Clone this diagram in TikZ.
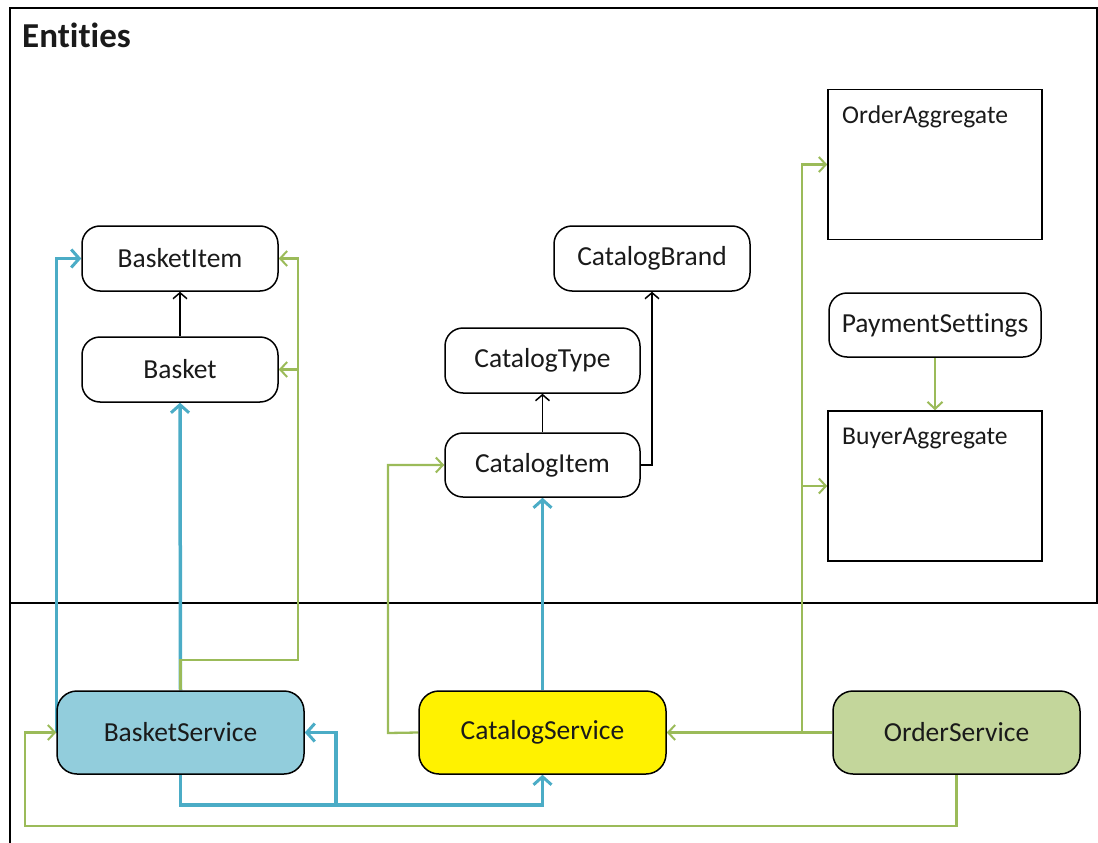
\documentclass[tikz,border=0pt]{standalone}
\usepackage{fontspec}
\setmainfont{Carlito}[Ligatures={NoCommon,NoRare,NoContextual}]
\usetikzlibrary{arrows.meta,backgrounds}
\definecolor{linkblue}{HTML}{4BACC6}
\definecolor{linkgreen}{HTML}{9BBB59}
\definecolor{basketfill}{HTML}{92CDDC}
\definecolor{orderfill}{HTML}{C3D69B}
\definecolor{inktext}{HTML}{1A1A1A}
\begin{document}
\begin{tikzpicture}[x=1pt,y=-1pt,
  every node/.style={text=inktext},
  entity/.style={draw=black, line width=1.5pt, rounded corners=18pt, fill=white,
    minimum width=196pt, minimum height=65pt, inner sep=0pt,
    font=\fontsize{27.5}{31}\selectfont},
  aggbox/.style={draw=black, line width=1.5pt, fill=white,
    minimum width=214pt, minimum height=150pt, inner sep=0pt},
  aggtitle/.style={anchor=base west, inner sep=0pt, font=\fontsize{25.6}{29}\selectfont},
  service/.style={draw=black, line width=1.5pt, rounded corners=20pt,
    minimum width=247pt, minimum height=83pt, inner sep=0pt,
    font=\fontsize{27.5}{31}\selectfont},
  blackln/.style={draw=black, line width=1.5pt, -{Straight Barb[length=6pt,width=14pt,line width=1.5pt]}},
  blueln/.style={draw=linkblue, line width=3.5pt, line join=miter},
  bluetip/.style={-{Straight Barb[length=8pt,width=18pt,line width=3pt]}},
  greenln/.style={draw=linkgreen, line width=2.3pt},
  greentip/.style={-{Straight Barb[length=7pt,width=15pt,line width=2pt]}},
]
\useasboundingbox (0,0) rectangle (1098,843);

% entity nodes
\node[entity] (bi) at (180,258.5) {BasketItem};
\node[entity] (bk) at (180,369.5) {Basket};
\node[entity] (cb) at (652,258.5) {CatalogBrand};
\node[entity, minimum width=195pt] (ct) at (542.5,360.5) {CatalogType};
\node[entity, minimum width=195pt, minimum height=64pt] (ci) at (542.5,465) {CatalogItem};
\node[entity, minimum width=212pt, minimum height=64pt] (ps) at (935,325) {PaymentSettings};
\node[aggbox] (oa) at (935,164.5) {};
\node[aggtitle] (oat) at (842,123) {OrderAggregate};
\node[aggbox] (ba) at (935,486) {};
\node[aggtitle] (bat) at (842,444) {BuyerAggregate};

% services
\node[service, fill=basketfill] (bs) at (180.5,732.5) {BasketService};
\node[service, fill=yellow] (cs) at (542.5,732.5) {CatalogService};
\node[service, fill=orderfill] (os) at (956.5,732.5) {OrderService};

% title
\node[anchor=base west, inner sep=0pt, font=\fontsize{35}{39}\selectfont\bfseries] (title) at (22,48) {Entities};

% routing points
\coordinate (bj) at (336,805);
\coordinate (gj) at (298,660);
\coordinate (cj) at (388,733);
\coordinate (oj) at (802,733);
\coordinate (gl) at (25,826);

\begin{scope}[on background layer]
  % frame of the entity area
  \draw[line width=2pt] (10,8) rectangle (1097,603);
  \draw[line width=2pt] (10,603) -- (10,843);

  % blue links
  \draw[blueln, bluetip] (bs.west) |- (bi.west);
  \draw[blueln, bluetip] (bs.north) -- (bk.south);
  \draw[blueln, bluetip] (cs.north) -- (ci.south);
  \draw[blueln, bluetip] (bs.south) |- (bj) -| (cs.south);
  \draw[blueln, bluetip] (bj) |- (bs.east);

  % green links
  \draw[greenln, greentip] (bs.north) |- (gj) |- (bi.east);
  \draw[greenln, greentip] (gj |- bk.east) -- (bk.east);
  \draw[greenln, greentip] (cs.west) -- (cj) |- (ci.west);
  \draw[greenln, greentip] (os.west) -- (cs.east);
  \draw[greenln, greentip] (oj) |- (oa.west);
  \draw[greenln, greentip] (oj |- ba.west) -- (ba.west);
  \draw[greenln, greentip] (os.south) |- (gl) |- (bs.west);
  \draw[greenln, greentip] (ps.south) -- (ba.north);

  % black links
  \draw[blackln] (bk.north) -- (bi.south);
  \draw[blackln] (ci.north) -- (ct.south);
  \draw[blackln] (ci.east) -| (cb.south);
\end{scope}
\end{tikzpicture}
\end{document}
